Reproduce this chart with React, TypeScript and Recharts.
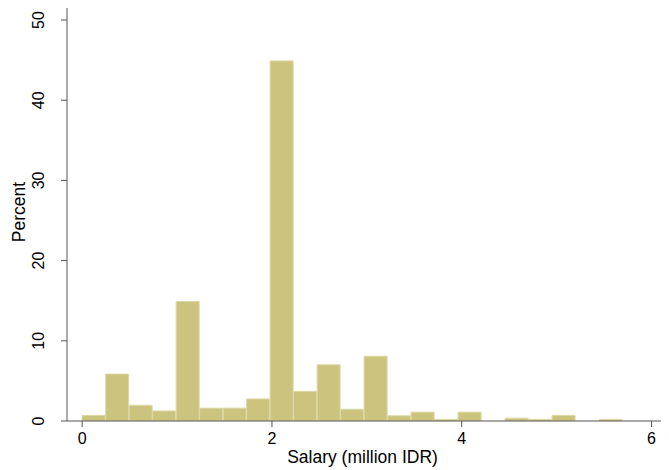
import React from 'react';
import { ComposedChart, Bar, XAxis, YAxis } from 'recharts';

const binWidth = 0.2476;
const binIndex = [0, 1, 2, 3, 4, 5, 6, 7, 8, 9, 10, 11, 12, 13, 14, 15, 16, 17, 18, 19, 20, 21, 22];
const percents = [0.7, 5.85, 1.96, 1.25, 14.9, 1.6, 1.6, 2.75, 44.9, 3.7, 7.0, 1.46, 8.08, 0.65, 1.1, 0.2, 1.1, 0, 0.35, 0.2, 0.7, 0, 0.2];
const xTicks = [0, 2, 4, 6];
const yTicks = [0, 10, 20, 30, 40, 50];
const xTitle = 'Salary (million IDR)';
const yTitle = 'Percent';

const data = binIndex.map((i) => ({ mid: (i + 0.5) * binWidth, pct: percents[i] }));

const FONT = '"Liberation Sans", Arial, sans-serif';
const TICK_FS = 16;
const TITLE_FS = 17.5;

const YTick = (props: any) => {
  const { y, payload } = props;
  const x = 44;
  return (
    <text
      x={x}
      y={y}
      transform={`rotate(-90, ${x}, ${y})`}
      textAnchor="middle"
      fontFamily={FONT}
      fontSize={TICK_FS}
      fill="#000"
    >
      {payload.value}
    </text>
  );
};

const XTick = (props: any) => {
  const { x, payload } = props;
  return (
    <text x={x} y={443.5} textAnchor="middle" fontFamily={FONT} fontSize={TICK_FS} fill="#000">
      {payload.value}
    </text>
  );
};

const XTitle = (props: any) => {
  const vb = props.viewBox || {};
  const cx = (vb.x ?? 67) + (vb.width ?? 594) / 2;
  return (
    <text x={cx - 1.5} y={463} textAnchor="middle" fontFamily={FONT} fontSize={TITLE_FS} fill="#000">
      {xTitle}
    </text>
  );
};

const YTitle = () => {
  const x = 25;
  const y = 212;
  return (
    <text x={x} y={y} transform={`rotate(-90, ${x}, ${y})`} textAnchor="middle" fontFamily={FONT} fontSize={TITLE_FS} fill="#000">
      {yTitle}
    </text>
  );
};

export default function App() {
  return (
    <div style={{ position: 'absolute', left: 0, top: 0, background: '#fff' }}>
      <ComposedChart
        width={669}
        height={470}
        data={data}
        margin={{ top: 8, right: 8, bottom: 0, left: 0 }}
        barCategoryGap={0}
        barGap={0}
      >
        <XAxis
          dataKey="mid"
          type="number"
          domain={[-0.16, 6.1]}
          ticks={xTicks}
          allowDataOverflow
          height={49}
          tickLine={{ stroke: '#555' }}
          axisLine={{ stroke: '#555' }}
          tickSize={6}
          tick={<XTick />}
          label={<XTitle />}
        />
        <YAxis
          type="number"
          domain={[0, 51.5]}
          ticks={yTicks}
          allowDataOverflow
          width={67}
          tickLine={{ stroke: '#555' }}
          axisLine={{ stroke: '#555' }}
          tickSize={6}
          tick={<YTick />}
          label={<YTitle />}
        />
        <Bar dataKey="pct" fill="#cbc37e" stroke="#dcd8a4" strokeWidth={1} isAnimationActive={false} />
      </ComposedChart>
    </div>
  );
}
